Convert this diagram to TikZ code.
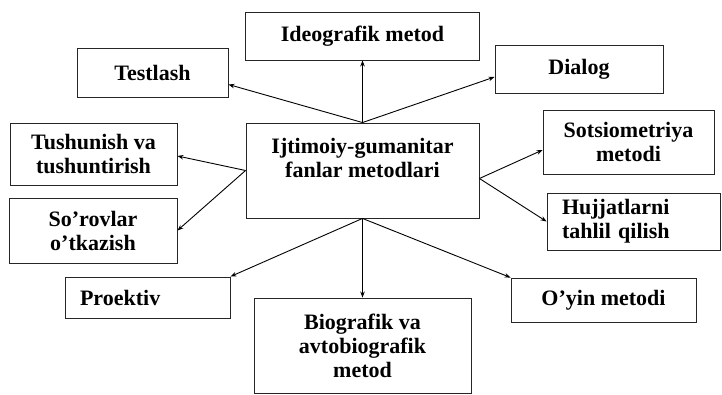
\documentclass[tikz,border=0pt]{standalone}
\usepackage{fontspec}
\setmainfont{Liberation Serif}
\usetikzlibrary{positioning,arrows.meta}

\begin{document}
\begin{tikzpicture}[
  x=1pt, y=1pt,
  font=\bfseries\fontsize{22}{24}\selectfont,
  box/.style={rectangle, draw=black!85, line width=0.9pt, inner sep=3pt, align=center},
  lbox/.style={box, align=left, inner xsep=15pt},
  arr/.style={-{Stealth[length=6pt, width=4.5pt]}, draw=black, line width=0.9pt}
]
\useasboundingbox (0,0) rectangle (722,395);

% centre
\node[box, minimum width=233pt, minimum height=95pt] (meth) at (362.5,224.5) {};
\node[draw=none, align=center] (methtxt) at ([yshift=13pt]meth.center) {Ijtimoiy-gumanitar\\fanlar metodlari};

% top row
\node[box, minimum width=234pt, minimum height=48pt] (ideo) at (362.5,359) {Ideografik metod};
\node[box, minimum width=151pt, minimum height=49pt] (test) at (152.5,322.5) {Testlash};
\node[box, minimum width=168pt, minimum height=48pt] (dial) at (579,326) {Dialog};

% left side
\node[box, minimum width=167pt, minimum height=62pt] (tush) at (93.5,241) {Tushunish va\\tushuntirish};
\node[box, minimum width=168pt, minimum height=65pt] (sorov) at (93,164.5) {So’rovlar\\o’tkazish};

% right side
\node[box, minimum width=171pt, minimum height=64pt] (sots) at (628.5,253) {Sotsiometriya\\metodi};
\node[lbox, text width=143pt, minimum width=173pt, minimum height=57pt] (hujj) at (633.5,173.5) {Hujjatlarni\\tahlil qilish};

% bottom row
\node[lbox, text width=135pt, minimum width=165pt, minimum height=41pt] (proek) at (147.5,97.5) {Proektiv};
\node[box, minimum width=217pt, minimum height=95pt] (bio) at (362.5,49.5) {Biografik va\\avtobiografik\\metod};
\node[box, minimum width=185pt, minimum height=44pt] (oyin) at (603.5,95) {O’yin metodi};

% arrows
\draw[arr] (meth.north) -- (ideo.south);
\draw[arr] (meth.north) -- ([yshift=-12pt]test.east);
\draw[arr] (meth.north) -- ([yshift=-8pt]dial.west);
\draw[arr] (meth.west) -- ([yshift=-2pt]tush.east);
\draw[arr] (meth.west) -- (sorov.east);
\draw[arr] ([yshift=-8pt]meth.east) -- ([yshift=-8pt]sots.west);
\draw[arr] ([yshift=-8pt]meth.east) -- (hujj.west);
\draw[arr] (meth.south) -- (proek.north east);
\draw[arr] (meth.south) -- (bio.north);
\draw[arr] (meth.south) -- (oyin.north west);
\end{tikzpicture}
\end{document}
